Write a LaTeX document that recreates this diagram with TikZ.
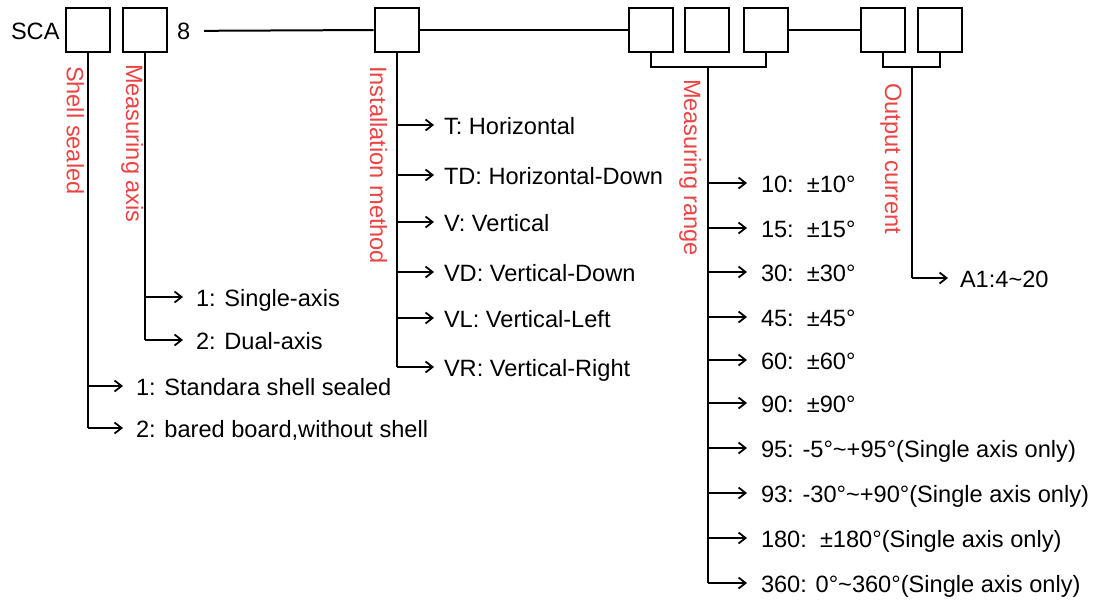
\documentclass[tikz,border=0pt]{standalone}
\usepackage{fontspec}
\setmainfont{Liberation Sans}
\usetikzlibrary{arrows.meta}
\definecolor{lblred}{RGB}{235,68,68}
\newcommand{\mytilde}{\textasciitilde}
\begin{document}
\begin{tikzpicture}[x=0.5pt,y=-0.5pt,
  line width=1pt,
  codebox/.style={draw,line width=1pt,minimum size=22pt,inner sep=0pt},
  txt/.style={font=\fontsize{11.8}{14}\selectfont,inner sep=0pt,text height=9pt,text depth=0pt,anchor=west},
  plain/.style={font=\fontsize{11.8}{14}\selectfont,inner sep=0pt,anchor=base west},
  redlbl/.style={font=\fontsize{11.8}{14}\selectfont,text=lblred,inner sep=0pt,anchor=base west,rotate=-90},
  arr/.style={line width=0.9pt,-{Straight Barb[length=3.5pt,width=5.5pt]},shorten >=#1},
  arr/.default=6pt]
\useasboundingbox (0,0) rectangle (1099,601);

% header
\node[plain] (sca) at (10,39) {SCA};
\node[codebox] (b1) at (88,30) {};
\node[codebox] (b2) at (145,30) {};
\node[plain] (eight) at (176,39) {8};
\node[codebox] (b3) at (396.5,30) {};
\node[codebox] (b4) at (651,30) {};
\node[codebox] (b5) at (707,30) {};
\node[codebox] (b6) at (765.5,30) {};
\node[codebox] (b7) at (883,30) {};
\node[codebox] (b8) at (940,30) {};

\draw[shorten <=6.5pt] (eight.east) -- (b3.west);
\draw (b3.east) -- (b4.west);
\draw (b6.east) -- (b7.west);

% red labels
\node[redlbl] (l1) at (67,65) {Shell sealed};
\node[redlbl] (l2) at (126,63) {Measuring axis};
\node[redlbl] (l3) at (370,65) {Installation method};
\node[redlbl] (l4) at (684,78) {Measuring range};
\node[redlbl] (l5) at (885,82) {Output current};

% shell sealed options
\node[txt] (s1) at (135,386) {1: Standara shell sealed};
\node[txt] (s2) at (135,428) {2: bared board,without shell};
\draw (b1.south) -- (b1.south |- s2.west);
\draw[arr] (b1.south |- s1.west) -- (s1.west);
\draw[arr] (b1.south |- s2.west) -- (s2.west);

% measuring axis options
\node[txt] (a1) at (195,297) {1: Single-axis};
\node[txt] (a2) at (195,340) {2: Dual-axis};
\draw (b2.south) -- (b2.south |- a2.west);
\draw[arr] (b2.south |- a1.west) -- (a1.west);
\draw[arr] (b2.south |- a2.west) -- (a2.west);

% installation options
\node[txt] (i1) at (443,125) {T: Horizontal};
\node[txt] (i2) at (443,175) {TD: Horizontal-Down};
\node[txt] (i3) at (443,222) {V: Vertical};
\node[txt] (i4) at (443,272) {VD: Vertical-Down};
\node[txt] (i5) at (443,318) {VL: Vertical-Left};
\node[txt] (i6) at (443,367) {VR: Vertical-Right};
\draw (b3.south) -- (b3.south |- i6.west);
\foreach \n in {i1,i2,i3,i4,i5,i6}
  \draw[arr=4.5pt] (b3.south |- \n.west) -- (\n.west);

% measuring range
\coordinate (rj) at (708,67);
\draw (b4.south) |- (rj) -| (b6.south);
\node[txt] (r1) at (760,183) {10:\ \ ±10°};
\node[txt] (r2) at (760,228) {15:\ \ ±15°};
\node[txt] (r3) at (760,272) {30:\ \ ±30°};
\node[txt] (r4) at (760,317) {45:\ \ ±45°};
\node[txt] (r5) at (760,360) {60:\ \ ±60°};
\node[txt] (r6) at (760,403) {90:\ \ ±90°};
\node[txt] (r7) at (760,448) {95: -5°\mytilde+95°(Single axis only)};
\node[txt] (r8) at (760,493) {93: -30°\mytilde+90°(Single axis only)};
\node[txt] (r9) at (760,538) {180:\ \ ±180°(Single axis only)};
\node[txt] (r10) at (760,583) {360: 0°\mytilde360°(Single axis only)};
\draw (rj) -- (rj |- r10.west);
\foreach \n in {r1,r2,r3,r4,r5,r6,r7,r8,r9,r10}
  \draw[arr=6.5pt] (rj |- \n.west) -- (\n.west);

% output current
\coordinate (oj) at (912,67);
\draw (b7.south) |- (oj) -| (b8.south);
\node[txt] (o1) at (959,278) {A1:4\mytilde20};
\draw (oj) -- (oj |- o1.west);
\draw[arr=5.5pt] (oj |- o1.west) -- (o1.west);
\end{tikzpicture}
\end{document}
